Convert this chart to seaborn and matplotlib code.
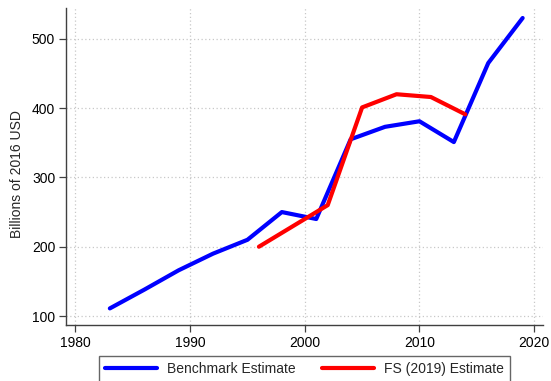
import matplotlib
matplotlib.use("Agg")
import matplotlib.pyplot as plt
from matplotlib.lines import Line2D
import seaborn as sns
import pandas as pd

# Benchmark series
bench_years = [1983, 1986, 1989, 1992, 1995, 1998, 2001, 2004, 2007, 2010, 2013, 2016, 2019]
bench_values = [111, 138, 166, 190, 210, 250, 240, 355, 373, 381, 351, 465, 530]

# FS (2019) series
fs_years = [1996, 1999, 2002, 2005, 2008, 2011, 2014]
fs_values = [200, 230, 260, 401, 420, 416, 391]

series_names = ["Benchmark Estimate", "FS (2019) Estimate"]
series_colors = ["#0000ff", "#ff0000"]

x_ticks = [1980, 1990, 2000, 2010, 2020]
y_ticks = [100, 200, 300, 400, 500]
y_label = "Billions of 2016 USD"

df = pd.concat([
    pd.DataFrame({"year": bench_years, "value": bench_values, "series": series_names[0]}),
    pd.DataFrame({"year": fs_years, "value": fs_values, "series": series_names[1]}),
], ignore_index=True)

sns.set_style("white")
plt.rcParams["font.family"] = ["Liberation Sans", "DejaVu Sans"]

fig = plt.figure(figsize=(5.51, 3.81), dpi=100)
ax = fig.add_axes([0.1203, 0.1478, 0.8657, 0.8304])

sns.lineplot(data=df, x="year", y="value", hue="series", hue_order=series_names,
             palette=dict(zip(series_names, series_colors)), linewidth=3,
             ax=ax, legend=False, sort=False, estimator=None)

ax.set_xlim(1979.2, 2020.8)
ax.set_ylim(87.5, 544)
ax.set_xticks(x_ticks)
ax.set_yticks(y_ticks)
ax.grid(True, linestyle=(0, (1, 2)), color="#c8c8c8", linewidth=0.9)
ax.set_axisbelow(True)

for side in ["top", "right"]:
    ax.spines[side].set_visible(False)
for side in ["left", "bottom"]:
    ax.spines[side].set_color("#404040")
    ax.spines[side].set_linewidth(1.0)

ax.tick_params(axis="both", which="major", direction="out", length=5, width=0.9,
               color="#404040", labelsize=10, labelcolor="black", pad=3,
               left=True, bottom=True)
ax.set_xlabel("")
ax.set_ylabel(y_label, fontsize=10)
ax.yaxis.set_label_coords(-0.089, 0.475)

handles = [Line2D([], [], color=c, linewidth=3) for c in series_colors]
leg = fig.legend(handles, series_names, loc="upper center",
                 bbox_to_anchor=(0.5526, 0.0656), ncol=2, fontsize=10,
                 frameon=True, fancybox=False, edgecolor="#404040",
                 handlelength=3.74, handletextpad=0.72, columnspacing=1.94,
                 borderpad=0.45, borderaxespad=0)
leg.get_frame().set_linewidth(1.0)

fig.savefig("out.png", dpi=100)
